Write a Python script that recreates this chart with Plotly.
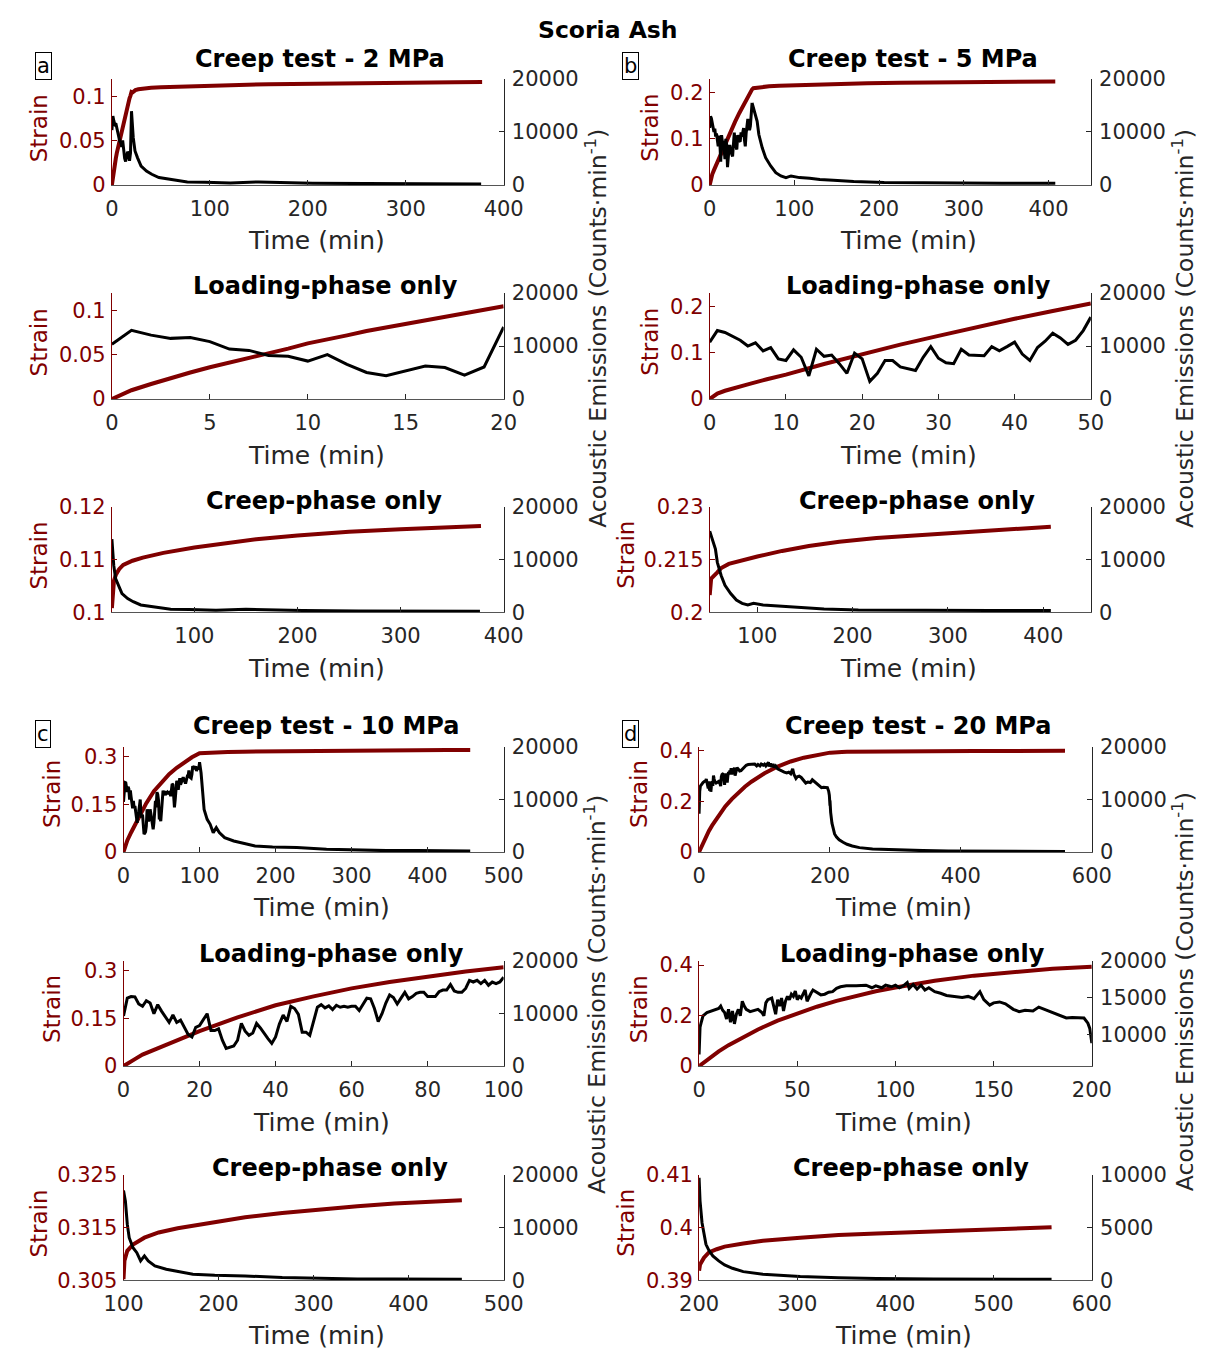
import plotly.graph_objects as go

# ---------------- DATA ----------------
# Panel a : 2 MPa
a_load_t = list(range(0, 21))
a_load_ae = [10340, 12970, 12050, 11440, 11620, 10830, 9420, 9170, 8200, 8070, 7160,
             8380, 6540, 5020, 4400, 5320, 6240, 5930, 4530, 6050, 13580]
a_load_strain = [0, 0.010, 0.017, 0.024, 0.030, 0.036, 0.041, 0.046, 0.051, 0.057, 0.063,
                 0.067, 0.072, 0.077, 0.081, 0.086, 0.090, 0.094, 0.098, 0.101, 0.105]
a_creep_t = [20, 21.8, 23.6, 26.2, 29.8, 35.3, 40.7, 48, 59, 68, 77, 95, 121, 150, 168, 205, 259, 314, 377]
a_creep_ae = [13900, 8900, 6400, 5100, 3560, 2600, 2000, 1380, 1060, 875, 560, 500, 375, 560, 440, 310, 250, 190, 190]
a_creep_strain_t = [20, 21, 22, 24, 27, 31, 40, 50, 70, 100, 130, 160, 200, 250, 300, 350, 378]
a_creep_strain = [0.1008, 0.1045, 0.1060, 0.1072, 0.1082, 0.1090, 0.1098, 0.1104, 0.1113, 0.1123,
                  0.1131, 0.1139, 0.1146, 0.1153, 0.1158, 0.1162, 0.1164]

# Panel b : 5 MPa
b_load_t = list(range(0, 51))
b_load_ae = [10730, 12910, 12550, 11820, 11090, 10000, 10610, 9090, 9700, 7580,
             7270, 9270, 7880, 4360, 9390, 8060, 8300, 6670, 4850, 8670,
             7580, 3330, 4850, 7270, 7270, 6060, 5760, 5390, 7880, 9880,
             7700, 6850, 6670, 9390, 8300, 8300, 8180, 9880, 9090, 9880,
             10730, 8480, 7270, 9700, 10910, 12420, 11520, 10300, 11090, 12910,
             15450]
b_load_strain_t = [0, 1, 2, 3, 5, 7.5, 10, 15, 20, 25, 30, 35, 40, 45, 50]
b_load_strain = [0, 0.012, 0.018, 0.023, 0.032, 0.043, 0.053, 0.076, 0.098, 0.118, 0.137, 0.156, 0.174, 0.191, 0.207]
b_creep_t = [50, 56, 58, 62, 66, 72, 78, 84, 90, 96, 106, 118, 130, 146, 170, 206, 245, 305, 345, 408]
b_creep_ae = [15440, 12000, 9500, 7000, 5125, 3560, 2310, 1690, 1375, 1690, 1375, 1250, 1000, 875, 625,
              440, 375, 310, 310, 310]
b_creep_strain_t = [50, 51.5, 58, 62, 70, 82, 100, 126, 154, 186, 225, 265, 305, 345, 384, 408]
b_creep_strain = [0.2049, 0.2096, 0.2114, 0.2126, 0.2138, 0.2147, 0.2159, 0.2175, 0.2189, 0.2201,
                  0.2212, 0.2219, 0.2227, 0.2234, 0.2240, 0.2244]

# Panel c : 10 MPa
c_load_t = list(range(0, 101))
c_load_ae = [9540, 12920, 13230, 13170, 11820, 11380, 12430, 12000, 9970, 11690,
             10460, 9350, 8310, 9720, 8310, 8740, 7380, 6030, 5540, 7380,
             7690, 8740, 9970, 6770, 6770, 7080, 4920, 3380, 3570, 3820,
             4920, 8120, 6650, 5850, 6280, 8120, 7260, 6150, 5230, 4310,
             5540, 8000, 9720, 8490, 11380, 10950, 9850, 6460, 6460, 5850,
             8490, 11200, 11690, 11080, 11450, 10770, 11570, 11200, 11380, 11200,
             11380, 11380, 10580, 11690, 12920, 12800, 10950, 8490, 9970, 12000,
             13540, 13050, 11820, 12920, 14030, 12800, 13230, 13850, 14030, 14030,
             13230, 13230, 13230, 14150, 14460, 14460, 15510, 14280, 14030, 14030,
             14770, 16310, 16000, 16310, 15690, 16310, 15380, 16000, 15690, 16000,
             16920]
c_load_strain_t = [0, 1, 2, 3, 5, 10, 20, 30, 40, 50, 60, 70, 80, 90, 100]
c_load_strain = [0, 0.008, 0.015, 0.022, 0.036, 0.061, 0.110, 0.153, 0.191, 0.219, 0.244, 0.264, 0.282, 0.297, 0.310]
c_creep_t = [100, 102, 104, 106, 110, 114, 118, 122, 126, 133, 145, 157, 173, 196, 228, 267, 307, 346, 385, 456]
c_creep_ae = [17090, 15060, 10630, 8100, 6200, 5250, 3670, 4620, 3670, 2720, 2090, 1650, 1140, 950, 820,
              510, 320, 250, 250, 190]
c_creep_strain_t = [100, 101, 104, 110, 122, 137, 157, 189, 228, 267, 307, 346, 385, 425, 456]
c_creep_strain = [0.3052, 0.3087, 0.3106, 0.3118, 0.3131, 0.3141, 0.3149, 0.3159, 0.3170, 0.3178,
                  0.3185, 0.3191, 0.3196, 0.3199, 0.3202]

# Panel d : 20 MPa
d_load_t = [0, 0.5, 1, 2, 4, 6, 8, 10,
            11, 12, 13, 14, 15, 16, 17, 18, 19, 20, 21, 22, 23, 24,
            26, 28, 30, 32, 33, 34, 35, 37, 38, 39, 40, 41, 42, 43, 44, 45, 46, 47, 48, 49, 50,
            51, 52, 53, 54, 55, 56, 57, 58,
            60, 62, 64, 66, 68, 70, 72, 75, 80, 85, 88, 90, 93, 95, 98, 100,
            102, 104, 106, 107, 109, 111, 113, 115, 117, 120, 123, 126, 130, 134, 137, 140,
            143, 145, 148, 150, 153, 156, 160, 163, 166, 170, 173, 176, 180, 184, 187, 190,
            193, 196, 198, 199, 200]
d_load_ae = [7280, 11010, 11540, 12540, 12980, 13200, 13420, 13550,
             13860, 13290, 12980, 12100, 13420, 11670, 13200, 11450, 12760, 13420, 12540, 14520, 13860, 13420,
             13110, 13290, 13420, 12980, 12540, 14300, 14740, 14960, 13860, 12760, 14740, 13860, 14960, 13200,
             14520, 15180, 14740, 15480, 15180, 15920, 14740,
             15180, 14960, 15610, 16050, 14520, 15180, 15610, 16050,
             15750, 15390, 15480, 15750, 15830, 16270, 16490, 16620, 16620, 16710, 16360, 16620, 16360, 16710,
             16490, 16710,
             16360, 16620, 17060, 16270, 16800, 16180, 16710, 16050, 16360, 15830, 15610, 15310, 15180, 15040,
             15180, 14870,
             15830, 14740, 13990, 14300, 14430, 14170, 13420, 13110, 13290, 13200, 13730, 13420, 12980, 12540,
             12240, 12320,
             12240, 12240, 11540, 10790, 8820]
d_load_strain_t = [0, 5, 10, 15, 20, 30, 40, 50, 60, 70, 80, 90, 100, 120, 140, 160, 180, 200]
d_load_strain = [0, 0.030, 0.058, 0.083, 0.105, 0.145, 0.180, 0.209, 0.235, 0.258, 0.278, 0.296, 0.311,
                 0.338, 0.358, 0.373, 0.385, 0.393]
d_creep_t = [200, 201, 203, 205, 207, 210, 214, 220, 226, 234, 245, 265, 284, 303, 342, 381, 439, 497, 559]
d_creep_ae = [9750, 7530, 5470, 4210, 3420, 2850, 2310, 1840, 1460, 1140, 820, 570, 470, 350, 250, 160, 130, 95, 95]
d_creep_strain_t = [200, 201, 205, 210, 218, 226, 245, 265, 303, 342, 381, 420, 458, 497, 559]
d_creep_strain = [0.3918, 0.3930, 0.3943, 0.3953, 0.3959, 0.3964, 0.3970, 0.3975, 0.3981, 0.3986,
                  0.3989, 0.3992, 0.3995, 0.3997, 0.4001]

# Axis ranges / ticks
a_top_x = [0, 400]; a_top_xt = [0, 100, 200, 300, 400]
b_top_x = [0, 450]; b_top_xt = [0, 100, 200, 300, 400]
a_load_x = [0, 20]; a_load_xt = [0, 5, 10, 15, 20]
b_load_x = [0, 50]; b_load_xt = [0, 10, 20, 30, 40, 50]
a_creep_x = [20, 400]; a_creep_xt = [100, 200, 300, 400]
b_creep_x = [50, 450]; b_creep_xt = [100, 200, 300, 400]
c_top_x = [0, 500]; c_top_xt = [0, 100, 200, 300, 400, 500]
d_top_x = [0, 600]; d_top_xt = [0, 200, 400, 600]
c_load_x = [0, 100]; c_load_xt = [0, 20, 40, 60, 80, 100]
d_load_x = [0, 200]; d_load_xt = [0, 50, 100, 150, 200]
c_creep_x = [100, 500]; c_creep_xt = [100, 200, 300, 400, 500]
d_creep_x = [200, 600]; d_creep_xt = [200, 300, 400, 500, 600]

a_s = [0, 0.12]; a_st = [0, 0.05, 0.1]
b_s = [0, 0.23]; b_st = [0, 0.1, 0.2]
a_cs = [0.1, 0.12]; a_cst = [0.1, 0.11, 0.12]
b_cs = [0.2, 0.23]; b_cst = [0.2, 0.215, 0.23]
c_s = [0, 0.33]; c_st = [0, 0.15, 0.3]
c_cs = [0.305, 0.325]; c_cst = [0.305, 0.315, 0.325]
d_s = [0, 0.416]; d_st = [0, 0.2, 0.4]
d_cs = [0.39, 0.41]; d_cst = [0.39, 0.4, 0.41]

ae_r = [0, 20000]; ae_t = [0, 10000, 20000]
d_load_ae_r = [5700, 20000]; d_load_ae_t = [10000, 15000, 20000]
d_creep_ae_r = [0, 10000]; d_creep_ae_t = [0, 5000, 10000]

# ---------------- FIGURE ----------------
W, H = 1225, 1362
RED = "#800000"
DARK = "#262626"
FONT = "DejaVu Sans"
TICK = 21

def fx(p):
    return p / W

def fy(p):
    return 1 - p / H

# full-test panels: loading data followed by creep data (creep's first strain sample overlaps the loading end)
panels = [
    (a_load_t + a_creep_t, a_load_ae + a_creep_ae,
     a_load_t + a_creep_strain_t[1:], a_load_strain + a_creep_strain[1:],
     (95, 500), (68, 176), a_top_x, a_top_xt, a_s, a_st, ae_r, ae_t),
    (b_load_t + b_creep_t, b_load_ae + b_creep_ae,
     b_load_strain_t + b_creep_strain_t[1:], b_load_strain + b_creep_strain[1:],
     (713, 1107), (68, 176), b_top_x, b_top_xt, b_s, b_st, ae_r, ae_t),
    (a_load_t, a_load_ae, a_load_t, a_load_strain,
     (95, 500), (286, 394), a_load_x, a_load_xt, a_s, a_st, ae_r, ae_t),
    (b_load_t, b_load_ae, b_load_strain_t, b_load_strain,
     (713, 1107), (286, 394), b_load_x, b_load_xt, b_s, b_st, ae_r, ae_t),
    (a_creep_t, a_creep_ae, a_creep_strain_t, a_creep_strain,
     (95, 500), (504, 611), a_creep_x, a_creep_xt, a_cs, a_cst, ae_r, ae_t),
    (b_creep_t, b_creep_ae, b_creep_strain_t, b_creep_strain,
     (713, 1107), (504, 611), b_creep_x, b_creep_xt, b_cs, b_cst, ae_r, ae_t),
    (c_load_t + c_creep_t, c_load_ae + c_creep_ae,
     c_load_strain_t + c_creep_strain_t[2:], c_load_strain + c_creep_strain[2:],
     (107, 500), (748, 855), c_top_x, c_top_xt, c_s, c_st, ae_r, ae_t),
    (d_load_t + d_creep_t, d_load_ae + d_creep_ae,
     d_load_strain_t + d_creep_strain_t[1:], d_load_strain + d_creep_strain[1:],
     (702, 1108), (748, 855), d_top_x, d_top_xt, d_s, d_st, ae_r, ae_t),
    (c_load_t, c_load_ae, c_load_strain_t, c_load_strain,
     (107, 500), (966, 1073), c_load_x, c_load_xt, c_s, c_st, ae_r, ae_t),
    (d_load_t, d_load_ae, d_load_strain_t, d_load_strain,
     (702, 1108), (966, 1073), d_load_x, d_load_xt, d_s, d_st, d_load_ae_r, d_load_ae_t),
    (c_creep_t, c_creep_ae, c_creep_strain_t, c_creep_strain,
     (107, 500), (1184, 1291), c_creep_x, c_creep_xt, c_cs, c_cst, ae_r, ae_t),
    (d_creep_t, d_creep_ae, d_creep_strain_t, d_creep_strain,
     (702, 1108), (1184, 1291), d_creep_x, d_creep_xt, d_cs, d_cst, d_creep_ae_r, d_creep_ae_t),
]

fig = go.Figure()
layout = dict(width=W, height=H, margin=dict(l=0, r=0, t=0, b=0),
              paper_bgcolor="white", plot_bgcolor="white", showlegend=False,
              font=dict(family=FONT, size=TICK, color=DARK))

tickfont = dict(family=FONT, size=TICK, color=DARK)
redfont = dict(family=FONT, size=TICK, color=RED)

for i, (aet_, ae_, st_, s_, xpx, ypx, xr, xt, sr, stk, aer, aetk) in enumerate(panels, start=1):
    xname = "x" if i == 1 else f"x{i}"
    ys = 2 * i - 1
    ya = 2 * i
    ys_name = "y" if ys == 1 else f"y{ys}"
    ya_name = f"y{ya}"
    fig.add_trace(go.Scatter(x=st_, y=s_, mode="lines", line=dict(color=RED, width=4),
                             xaxis=xname, yaxis=ys_name, hoverinfo="skip"))
    fig.add_trace(go.Scatter(x=aet_, y=ae_, mode="lines", line=dict(color="black", width=3),
                             xaxis=xname, yaxis=ya_name, hoverinfo="skip"))
    xkey = "xaxis" if i == 1 else f"xaxis{i}"
    yskey = "yaxis" if ys == 1 else f"yaxis{ys}"
    yakey = f"yaxis{ya}"
    layout[xkey] = dict(domain=[fx(xpx[0]), fx(xpx[1])], anchor=ys_name, range=xr,
                        tickvals=xt, tickformat="~g", ticks="inside", ticklen=5, tickcolor=DARK,
                        showline=True, linecolor="#555555", linewidth=1, showgrid=False, zeroline=False,
                        tickfont=tickfont, ticklabelstandoff=5)
    layout[yskey] = dict(domain=[fy(ypx[1]), fy(ypx[0])], anchor=xname, range=sr, side="left",
                         tickvals=stk, tickformat="~g", ticks="inside", ticklen=5, tickcolor=RED,
                         showline=True, linecolor=RED, linewidth=1, showgrid=False, zeroline=False,
                         tickfont=redfont, ticklabelstandoff=1)
    layout[yakey] = dict(domain=[fy(ypx[1]), fy(ypx[0])], anchor=xname, overlaying=ys_name, range=aer,
                         side="right", tickvals=aetk, tickformat="~g", ticks="inside", ticklen=5,
                         tickcolor=DARK, showline=True, linecolor=DARK, linewidth=1, showgrid=False,
                         zeroline=False, tickfont=tickfont, ticklabelstandoff=3)

ann = []

def txt(t, x, y, size=21, bold=False, color="black", angle=0, **kw):
    d = dict(text=f"<b>{t}</b>" if bold else t, x=fx(x), y=fy(y), xref="paper", yref="paper",
             xanchor="center", yanchor="middle", showarrow=False, textangle=angle,
             font=dict(family=FONT, size=size, color=color))
    d.update(kw)
    ann.append(d)

txt("Scoria Ash", 608, 18, size=23.5, bold=True)
titles = [("Creep test - 2 MPa", 310, 48), ("Creep test - 5 MPa", 923, 48),
          ("Loading-phase only", 316, 279), ("Loading-phase only", 929, 279),
          ("Creep-phase only", 314, 498), ("Creep-phase only", 927, 498),
          ("Creep test - 10 MPa", 317, 727), ("Creep test - 20 MPa", 929, 727),
          ("Loading-phase only", 322, 959), ("Loading-phase only", 923, 959),
          ("Creep-phase only", 320, 1177), ("Creep-phase only", 921, 1177)]
for t, x, y in titles:
    txt(t, x, y, size=24, bold=True)

for x, y in [(306, 233), (919, 233), (306, 451), (919, 451), (306, 668), (919, 668),
             (312, 912), (913, 912), (312, 1130), (913, 1130), (306, 1347), (913, 1347)]:
    txt("Time (min)", x, y, size=25, color=DARK)

for x, y in [(20, 118), (651, 118), (20, 336), (651, 336), (20, 553), (627, 553),
             (33, 796), (640, 796), (33, 1015), (640, 1015), (20, 1233), (627, 1233)]:
    txt("Strain", x, y, size=23, color=RED, angle=-90)

ae_label = "Acoustic Emissions (Counts·min<sup>-1</sup>)"
for x, y in [(596, 322), (1203, 322), (595, 1000), (1203, 997)]:
    txt(ae_label, x, y, size=23.5, color=DARK, angle=-90)

for t, x, y in [("a", 24, 55), ("b", 631, 55), ("c", 24, 735), ("d", 631, 735)]:
    txt(t, x, y, size=21, color="black", bordercolor="black", borderwidth=1, borderpad=1)

layout["annotations"] = ann
fig.update_layout(**layout)
fig.write_html("out.html")

# make sure the page itself adds no body margin
with open("out.html", "r", encoding="utf-8") as fh:
    html = fh.read()
html = html.replace("<body>", '<body style="margin:0;padding:0;overflow:hidden">', 1)
with open("out.html", "w", encoding="utf-8") as fh:
    fh.write(html)
